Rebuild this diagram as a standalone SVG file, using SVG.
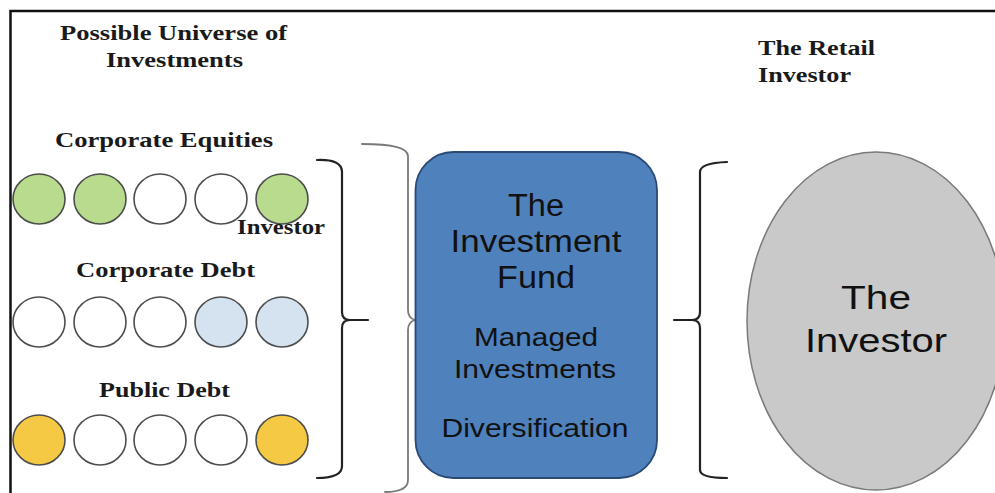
<svg xmlns="http://www.w3.org/2000/svg" width="995" height="493" viewBox="0 0 995 493">
<style>
.lbl{font-family:"Liberation Serif","Times New Roman",serif;font-weight:bold;font-size:21px;fill:#1a1a1a}
.sans{font-family:"Liberation Sans",Arial,sans-serif;fill:#111;text-anchor:middle}
.c{stroke:#4d4d4d;stroke-width:1.6}
.g{fill:#b8db8e}.b{fill:#d5e3f1}.y{fill:#f6c944}.w{fill:#fff}
.br{fill:none;stroke-linecap:round;stroke-linejoin:round}
</style>
<rect x="0" y="0" width="995" height="493" fill="#fff"/>
<rect id="frame" x="10.5" y="11" width="1000" height="1000" fill="none" stroke="#111" stroke-width="2.5"/>

<g id="universe-title">
<text class="lbl" x="60" y="40" textLength="227" lengthAdjust="spacingAndGlyphs">Possible Universe of</text>
<text class="lbl" x="106" y="67" textLength="137" lengthAdjust="spacingAndGlyphs">Investments</text>
</g>

<g id="corporate-equities">
<text class="lbl" x="55" y="147" textLength="218" lengthAdjust="spacingAndGlyphs">Corporate Equities</text>
<ellipse class="c g" cx="39" cy="199" rx="26" ry="25"/>
<ellipse class="c g" cx="100" cy="199" rx="26" ry="25"/>
<ellipse class="c w" cx="160" cy="199" rx="26" ry="25"/>
<ellipse class="c w" cx="221" cy="199" rx="26" ry="25"/>
<ellipse class="c g" cx="282" cy="199" rx="26" ry="25"/>
</g>

<g id="investor-label">
<text class="lbl" x="237" y="234" textLength="88" lengthAdjust="spacingAndGlyphs">Investor</text>
</g>

<g id="corporate-debt">
<text class="lbl" x="76" y="277" textLength="179" lengthAdjust="spacingAndGlyphs">Corporate Debt</text>
<ellipse class="c w" cx="39" cy="322" rx="26" ry="25"/>
<ellipse class="c w" cx="100" cy="322" rx="26" ry="25"/>
<ellipse class="c w" cx="160" cy="322" rx="26" ry="25"/>
<ellipse class="c b" cx="221" cy="322" rx="26" ry="25"/>
<ellipse class="c b" cx="282" cy="322" rx="26" ry="25"/>
</g>

<g id="public-debt">
<text class="lbl" x="99" y="397" textLength="131" lengthAdjust="spacingAndGlyphs">Public Debt</text>
<ellipse class="c y" cx="39" cy="440" rx="26" ry="25"/>
<ellipse class="c w" cx="100" cy="440" rx="26" ry="25"/>
<ellipse class="c w" cx="160" cy="440" rx="26" ry="25"/>
<ellipse class="c w" cx="221" cy="440" rx="26" ry="25"/>
<ellipse class="c y" cx="282" cy="440" rx="26" ry="25"/>
</g>

<g id="connectors">
<path class="br" stroke="#222" stroke-width="2.2" d="M317,160 Q342,159 342,172 L342,312 Q342,320 350,320 L368,320 M350,320 Q342,320 342,328 L342,466 Q342,478 317,478"/>
<path class="br" stroke="#7a7a7a" stroke-width="1.8" d="M362,144 Q408,144 408,156 L408,310 Q408,318 415,320 Q408,322 408,330 L408,480 Q408,492 385,492"/>
<path class="br" stroke="#222" stroke-width="2.2" d="M727,162 Q700,163 700,172 L700,312 Q700,320 692,320 L674,320 M692,320 Q700,320 700,328 L700,470 Q700,478 727,478"/>
</g>

<g id="investment-fund">
<rect x="415.5" y="152" width="241.5" height="326" rx="38" ry="38" fill="#4f81bd" stroke="#2a4a75" stroke-width="1.8"/>
<text class="sans" x="536" y="216" font-size="31" textLength="56" lengthAdjust="spacingAndGlyphs">The</text>
<text class="sans" x="536" y="252" font-size="31" textLength="171" lengthAdjust="spacingAndGlyphs">Investment</text>
<text class="sans" x="536" y="288" font-size="31" textLength="78" lengthAdjust="spacingAndGlyphs">Fund</text>
<text class="sans" x="536" y="346" font-size="25" textLength="124" lengthAdjust="spacingAndGlyphs">Managed</text>
<text class="sans" x="535" y="378" font-size="25" textLength="162" lengthAdjust="spacingAndGlyphs">Investments</text>
<text class="sans" x="535" y="437" font-size="25" textLength="187" lengthAdjust="spacingAndGlyphs">Diversification</text>
</g>

<g id="retail-investor-title">
<text class="lbl" x="758" y="55" textLength="117" lengthAdjust="spacingAndGlyphs">The Retail</text>
<text class="lbl" x="758" y="82" textLength="93" lengthAdjust="spacingAndGlyphs">Investor</text>
</g>

<g id="the-investor">
<ellipse cx="876" cy="321" rx="129" ry="169" fill="#c9c9c9" stroke="#7a7a7a" stroke-width="1.5"/>
<text class="sans" x="876" y="309" font-size="33" textLength="70" lengthAdjust="spacingAndGlyphs">The</text>
<text class="sans" x="876" y="352" font-size="33" textLength="142" lengthAdjust="spacingAndGlyphs">Investor</text>
</g>
</svg>
